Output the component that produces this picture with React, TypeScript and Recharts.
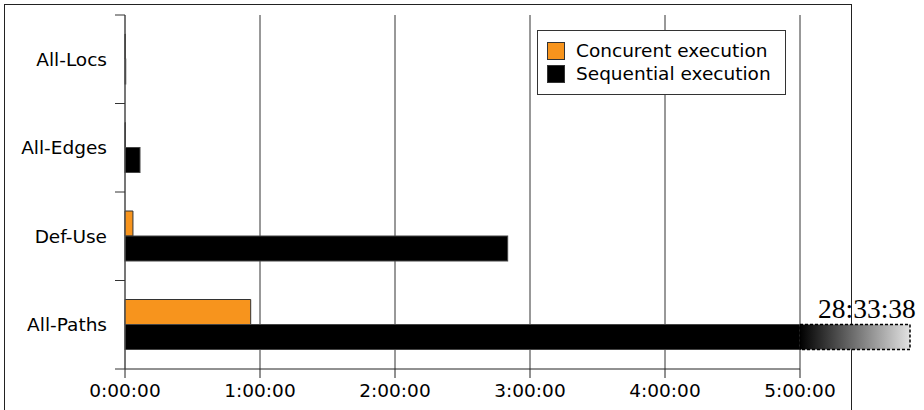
import React from "react"
import { BarChart, Bar, XAxis, YAxis, CartesianGrid, Legend } from "recharts"

// times in seconds
const categories = ["All-Locs", "All-Edges", "Def-Use", "All-Paths"]
const concurrent = [8, 12, 212, 3352]
const sequential = [20, 400, 10205, 102818]
const xTicks = [0, 3600, 7200, 10800, 14400, 18000]
const AXIS_MAX = 18000

const data = categories.map((name, i) => ({
  name,
  concurrent: concurrent[i],
  sequential: sequential[i],
}))

const FONT = "'DejaVu Sans', sans-serif"
const ORANGE = "#F7941D"
const PLOT_TOP = 15
const PLOT_H = 354
const BAND = PLOT_H / categories.length

const fmt = (s: number) => {
  const h = Math.floor(s / 3600)
  const m = Math.floor((s % 3600) / 60)
  const sec = s % 60
  return `${h}:${String(m).padStart(2, "0")}:${String(sec).padStart(2, "0")}`
}

const CategoryTick = (props: any) => {
  const { x, y, payload, index } = props
  return (
    <g>
      <line x1={x + 8} x2={x + 18} y1={y - BAND / 2} y2={y - BAND / 2} stroke="#333" />
      {index === categories.length - 1 && (
        <line x1={x + 8} x2={x + 18} y1={y + BAND / 2} y2={y + BAND / 2} stroke="#333" />
      )}
      <text x={x} y={y} dy="0.35em" textAnchor="end" fill="#000" fontFamily={FONT} fontSize={18.5}>
        {payload.value}
      </text>
    </g>
  )
}

const SequentialShape = (props: any) => {
  const { x, y, width, height, payload } = props
  const over = payload.sequential > AXIS_MAX
  const tailX = x + width
  return (
    <g>
      <defs>
        <linearGradient id="tailFade" x1="0" y1="0" x2="1" y2="0">
          <stop offset="0%" stopColor="#000" />
          <stop offset="100%" stopColor="#e2e2e2" />
        </linearGradient>
      </defs>
      <rect x={x} y={y} width={width} height={height} fill="#000" stroke="#444" strokeWidth={1} />
      {over && (
        <g>
          <rect
            x={tailX}
            y={y}
            width={110}
            height={height}
            fill="url(#tailFade)"
            stroke="#000"
            strokeWidth={1.5}
            strokeDasharray="3 2"
          />
          <text x={tailX + 18} y={y - 7} fontFamily="'Liberation Serif', serif" fontSize={27.5} fill="#000">
            {fmt(payload.sequential)}
          </text>
        </g>
      )}
    </g>
  )
}

const LegendBox = (props: any) => {
  const { payload } = props
  return (
    <div
      style={{
        border: "1px solid #333",
        background: "#fff",
        padding: "8px 9px 9px 9px",
        fontFamily: FONT,
        fontSize: 18.5,
        color: "#000",
        boxSizing: "border-box",
        width: 249,
      }}
    >
      {(payload || []).map((p: any) => (
        <div key={p.value} style={{ display: "flex", alignItems: "center", height: 23 }}>
          <span
            style={{
              width: 18,
              height: 18,
              background: p.color,
              border: "1px solid #333",
              boxSizing: "border-box",
              marginRight: 11,
            }}
          />
          {p.value}
        </div>
      ))}
    </div>
  )
}

export default function App() {
  return (
    <div style={{ position: "absolute", left: 0, top: 0, width: 924, height: 410, overflow: "hidden", background: "#fff" }}>
      <div
        style={{
          position: "absolute",
          left: 4,
          top: 4,
          width: 848,
          height: 430,
          border: "1px solid #222",
          boxSizing: "border-box",
        }}
      />
      <BarChart
        width={924}
        height={410}
        data={data}
        layout="vertical"
        margin={{ top: PLOT_TOP, right: 124, bottom: 0, left: 0 }}
        barGap={0}
        barSize={25}
        style={{ position: "absolute", left: 0, top: 0 }}
      >
        <CartesianGrid horizontal={false} stroke="#333" strokeWidth={1} />
        <XAxis
          type="number"
          domain={[0, AXIS_MAX]}
          ticks={xTicks}
          tickFormatter={fmt}
          height={41}
          tickSize={9}
          tickMargin={6}
          stroke="#222"
          tick={{ fill: "#000", fontFamily: FONT, fontSize: 18.5 }}
        />
        <YAxis
          type="category"
          dataKey="name"
          width={125}
          tickSize={0}
          tickMargin={18}
          stroke="#555"
          tick={<CategoryTick />}
        />
        <Legend
          layout="vertical"
          align="center"
          verticalAlign="middle"
          content={<LegendBox />}
          wrapperStyle={{ left: 537, top: 30, width: 249 }}
        />
        <Bar
          dataKey="concurrent"
          name="Concurent execution"
          fill={ORANGE}
          stroke="#333"
          strokeWidth={1}
          isAnimationActive={false}
        />
        <Bar
          dataKey={(d: any) => Math.min(d.sequential, AXIS_MAX)}
          name="Sequential execution"
          fill="#000"
          isAnimationActive={false}
          shape={<SequentialShape />}
        />
      </BarChart>
    </div>
  )
}
